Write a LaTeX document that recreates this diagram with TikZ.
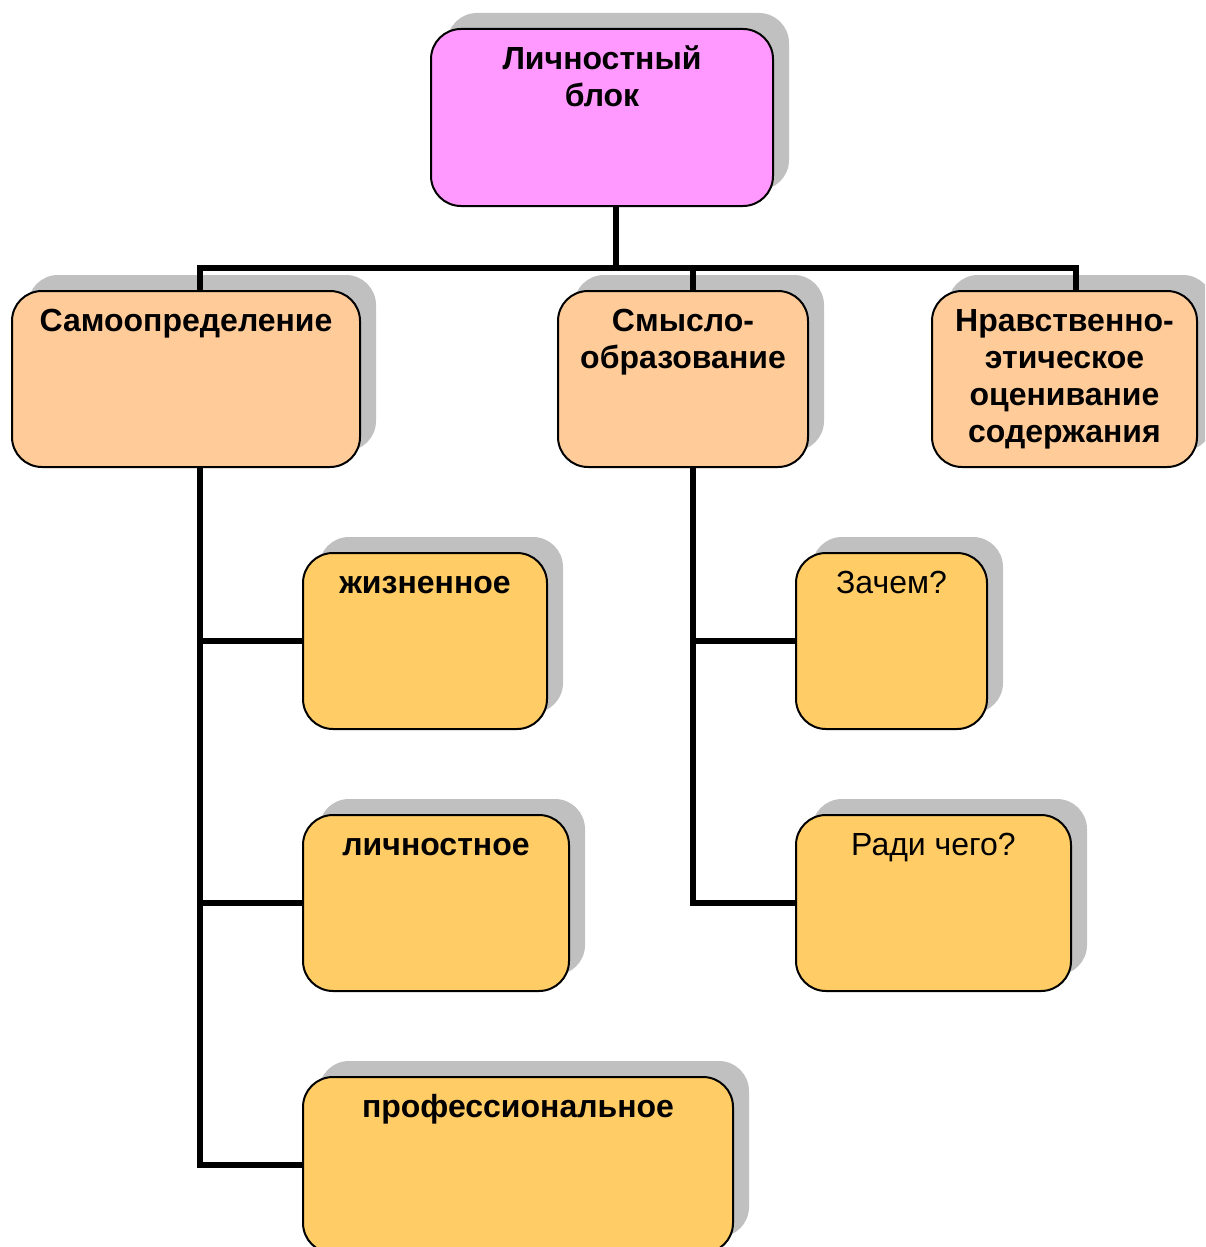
\documentclass[tikz,border=0pt]{standalone}
\usepackage{fontspec}
\setmainfont{Liberation Sans}
\usetikzlibrary{shadows}
\definecolor{pinkbox}{HTML}{FF99FF}
\definecolor{peachbox}{HTML}{FFCC99}
\definecolor{yellowbox}{HTML}{FFCC66}
\definecolor{shadowgray}{HTML}{C0C0C0}
\tikzset{
  box/.style={draw=black, line width=1pt, rounded corners=15pt, inner sep=0pt, outer sep=0pt,
    drop shadow={shadow xshift=8pt, shadow yshift=8pt, fill=shadowgray, opacity=1}},
  txt/.style={inner sep=0pt, align=center, font=\fontsize{16}{18.5}\selectfont\bfseries},
  txtreg/.style={inner sep=0pt, align=center, font=\fontsize{16}{18.5}\selectfont},
  conn/.style={draw=black, line width=3pt, line join=miter, line cap=rect},
  branch/.style={draw=black, line width=3pt, line join=miter},
}
\newcommand{\firstline}{\rule{0pt}{12pt}}
\begin{document}
\begin{tikzpicture}[x=0.5pt, y=-0.5pt]
\useasboundingbox (0,0) rectangle (1205,1247);
\clip (0,0) rectangle (1205,1247);
% boxes
\node[box, fill=pinkbox, minimum width=171pt, minimum height=88.5pt,
  label={[txt, anchor=north, yshift=-8pt]north:\firstline Личностный\\блок}] (A) at (602,117.5) {};
\node[box, fill=peachbox, minimum width=174pt, minimum height=88pt,
  label={[txt, anchor=north, yshift=-8pt]north:\firstline Самоопределение}] (B) at (186,379) {};
\node[box, fill=peachbox, minimum width=125pt, minimum height=88pt,
  label={[txt, anchor=north, yshift=-8pt]north:\firstline Смысло-\\образование}] (C) at (683,379) {};
\node[box, fill=peachbox, minimum width=132.5pt, minimum height=88pt,
  label={[txt, anchor=north, yshift=-8pt]north:\firstline Нравственно-\\этическое\\оценивание\\содержания}] (D) at (1064.5,379) {};
\node[box, fill=yellowbox, minimum width=122pt, minimum height=88pt,
  label={[txt, anchor=north, yshift=-8pt]north:\firstline жизненное}] (E) at (425,641) {};
\node[box, fill=yellowbox, minimum width=133pt, minimum height=88pt,
  label={[txt, anchor=north, yshift=-8pt]north:\firstline личностное}] (F) at (436,903) {};
\node[box, fill=yellowbox, minimum width=215pt, minimum height=88pt,
  label={[txt, anchor=north, yshift=-8pt]north:\firstline профессиональное}] (G) at (518,1165) {};
\node[box, fill=yellowbox, minimum width=95.5pt, minimum height=88pt,
  label={[txtreg, anchor=north, yshift=-8pt]north:\firstline Зачем?}] (H) at (891.5,641) {};
\node[box, fill=yellowbox, minimum width=137.5pt, minimum height=88pt,
  label={[txtreg, anchor=north, yshift=-8pt]north:\firstline Ради чего?}] (I) at (933.5,903) {};
% connectors
\coordinate (hub) at (616,268);
\coordinate (lft) at (200,268);
\coordinate (rgt) at (1076,268);
\draw[conn, line cap=butt] (616,0 |- A.south) -- (hub);
\draw[conn, line cap=butt] (200,0 |- B.north) -- (lft) -- (rgt) -- (1076,0 |- D.north);
\draw[conn, line cap=butt] (hub -| 693,0) -- (693,0 |- C.north);
\draw[branch] (200,0 |- B.south) -- (200,0 |- G.west) -- (G.west);
\draw[branch] (200,0 |- E.west) -- (E.west);
\draw[branch] (200,0 |- F.west) -- (F.west);
\draw[branch] (693,0 |- C.south) -- (693,0 |- I.west) -- (I.west);
\draw[branch] (693,0 |- H.west) -- (H.west);
\end{tikzpicture}
\end{document}
